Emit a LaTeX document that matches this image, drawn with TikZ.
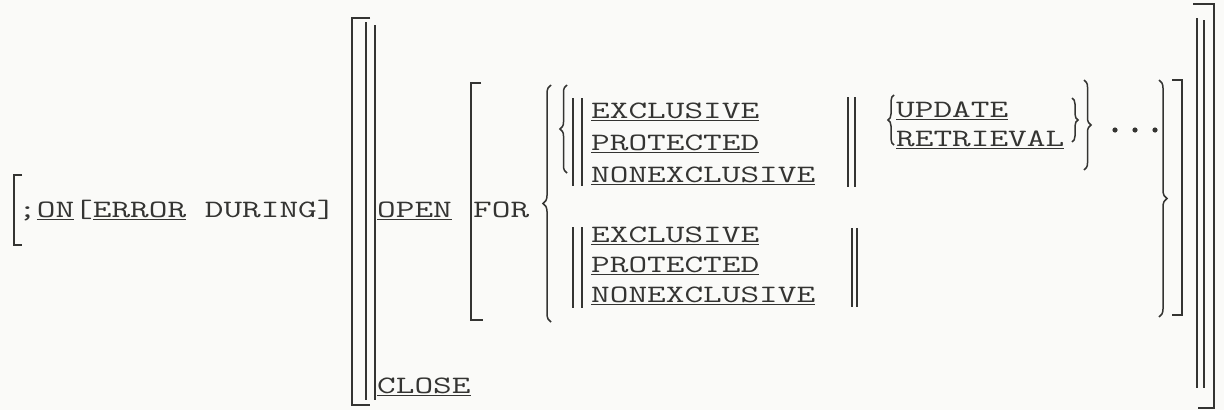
\documentclass[tikz,border=0pt]{standalone}
\usepackage{fontspec}
\setmonofont[FakeStretch=1.45]{Latin Modern Mono}
\usepackage{tikz}
\usetikzlibrary{positioning,decorations.pathreplacing}
\definecolor{ink}{RGB}{52,52,50}
\definecolor{paper}{RGB}{250,250,248}

\begin{document}
\begin{tikzpicture}[
  x=1pt,y=-1pt,
  word/.style={font=\ttfamily\fontsize{25}{30}\selectfont,text=ink,inner sep=0pt,anchor=base west},
  bar/.style={draw=ink,line width=1.5pt},
  curly/.style={draw=ink,line width=1.5pt,decorate,decoration={brace,amplitude=#1}},
]

\fill[paper] (0,0) rectangle (1224,410);
\useasboundingbox (0,0) rectangle (1224,410);

% Left part
\draw[bar] (22,175) -- (14,175) -- (14,245) -- (22,245);
\node[word] (on_clause) at (18,217) {;\underline{ON}[\underline{ERROR} DURING]};

% Outer bracket with double bars
\draw[bar] (370,18) -- (352,18) -- (352,405) -- (370,405);
\draw[bar] (366,22) -- (366,400);
\draw[bar] (375,25) -- (375,400);
\node[word] (open_kw) at (377,217) {\underline{OPEN}};
\node[word] (close_kw) at (377,393) {\underline{CLOSE}};

% FOR bracket
\draw[bar] (481,83) -- (471,83) -- (471,320) -- (483,320);
\node[word] (for_kw) at (473,217) {FOR};
\draw[curly=8pt] (551,322) -- (551,85);

% First choice
\draw[curly=7pt] (567,173) -- (567,85);
\draw[bar] (573,98) -- (573,186);
\draw[bar] (582,98) -- (582,186);
\node[word] (excl_a) at (591,118) {\underline{EXCLUSIVE}};
\node[word] (prot_a) at (591,150) {\underline{PROTECTED}};
\node[word] (nonex_a) at (591,182) {\underline{NONEXCLUSIVE}};
\draw[bar] (848,97) -- (848,187);
\draw[bar] (855,97) -- (855,187);

\draw[curly=6pt] (894,145) -- (894,95);
\node[word] (upd) at (896,117) {\underline{UPDATE}};
\node[word] (retr) at (896,146) {\underline{RETRIEVAL}};
\draw[curly=6pt] (1072,98) -- (1072,142);
\draw[curly=7pt] (1084,80) -- (1084,170);

\fill[ink] (1115,130) circle (2.6);
\fill[ink] (1135,130) circle (2.6);
\fill[ink] (1155,130) circle (2.6);

% Second choice
\draw[bar] (573,227) -- (573,308);
\draw[bar] (582,227) -- (582,308);
\node[word] (excl_b) at (591,242) {\underline{EXCLUSIVE}};
\node[word] (prot_b) at (591,272) {\underline{PROTECTED}};
\node[word] (nonex_b) at (591,302) {\underline{NONEXCLUSIVE}};
\draw[bar] (852,228) -- (852,307);
\draw[bar] (857,228) -- (857,307);

% Closing side
\draw[curly=8pt] (1159,80) -- (1159,317);
\draw[bar] (1172,80) -- (1182,80) -- (1182,315) -- (1172,315);
\draw[bar] (1197,18) -- (1197,388);
\draw[bar] (1204,20) -- (1204,388);
\draw[bar] (1193,4) -- (1214,4) -- (1214,408) -- (1198,408);

\end{tikzpicture}
\end{document}
